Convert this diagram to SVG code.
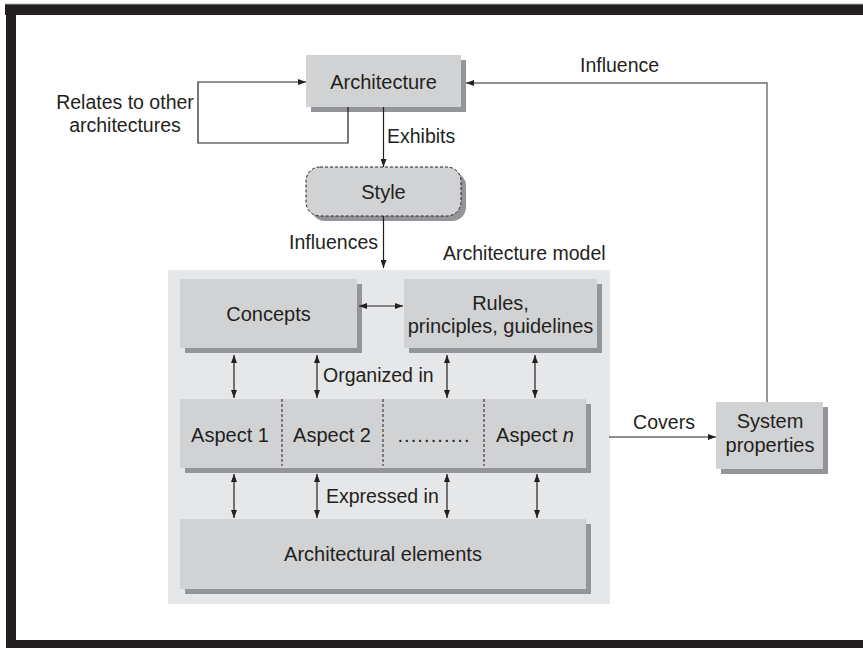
<svg xmlns="http://www.w3.org/2000/svg" width="863" height="648" viewBox="0 0 863 648">
<defs>
<marker id="ah" markerWidth="8" markerHeight="6" refX="8" refY="3" orient="auto-start-reverse" markerUnits="userSpaceOnUse">
<path d="M0,0 L8,3 L0,6 z" fill="#231f20"/>
</marker>
<style>
text{font-family:"Liberation Sans",Arial,sans-serif;font-size:19.5px;fill:#231f20}
.c{text-anchor:middle}
.n{font-size:20px}
.box{fill:#d1d2d4}
.sh{fill:#939598}
.ln{fill:none;stroke:#231f20;stroke-width:1.2}
.gl{fill:none;stroke:#6d6e71;stroke-width:1.4}
.dv{stroke:#231f20;stroke-width:1;stroke-dasharray:3,2}
</style>
</defs>
<rect x="0" y="0" width="863" height="648" fill="#fff"/>
<rect x="5" y="4" width="858" height="11" fill="#231f20"/>
<rect x="6" y="4" width="10" height="644" fill="#231f20"/>
<rect x="6" y="640" width="857" height="8" fill="#231f20"/>
<line x1="5" y1="4" x2="863" y2="4" stroke="#a7a9ac" stroke-width="1"/>
<g id="model">
<rect x="168" y="270" width="442" height="334" fill="#e6e7e8"/>
<text x="443" y="260">Architecture model</text>
</g>
<g id="architecture">
<rect class="sh" x="311" y="60" width="155" height="52"/>
<rect class="box" x="306" y="55" width="155" height="52"/>
<text class="c n" x="383.5" y="89">Architecture</text>
</g>
<g id="style">
<rect class="sh" x="311" y="172" width="155" height="49" rx="14"/>
<rect x="306" y="167" width="155" height="49" rx="14" fill="#d1d2d4" stroke="#231f20" stroke-width="1" stroke-dasharray="3,2"/>
<text class="c n" x="383.5" y="199">Style</text>
</g>
<g id="concepts">
<rect class="sh" x="185" y="284" width="177" height="69"/>
<rect class="box" x="180" y="279" width="177" height="69"/>
<text class="c n" x="268.5" y="321">Concepts</text>
</g>
<g id="rules">
<rect class="sh" x="409" y="284" width="193" height="69"/>
<rect class="box" x="404" y="279" width="193" height="69"/>
<text class="c n" x="500.5" y="310">Rules,</text>
<text class="c n" x="500.5" y="333">principles, guidelines</text>
</g>
<g id="aspects">
<rect class="sh" x="185" y="404" width="406" height="69"/>
<rect class="box" x="180" y="399" width="406" height="69"/>
<line class="dv" x1="282" y1="399" x2="282" y2="466"/>
<line class="dv" x1="383" y1="399" x2="383" y2="466"/>
<line class="dv" x1="484" y1="399" x2="484" y2="466"/>
<text class="c n" x="230" y="442">Aspect 1</text>
<text class="c n" x="332" y="442">Aspect 2</text>
<text class="c n" x="434" y="442" letter-spacing="1.1">...........</text>
<text class="c n" x="535" y="442">Aspect <tspan font-style="italic">n</tspan></text>
</g>
<g id="elements">
<rect class="sh" x="185" y="524" width="406" height="70"/>
<rect class="box" x="180" y="519" width="406" height="70"/>
<text class="c n" x="383" y="561">Architectural elements</text>
</g>
<g id="system">
<rect class="sh" x="721" y="407" width="107" height="67"/>
<rect class="box" x="716" y="402" width="107" height="67"/>
<text class="c n" x="770" y="428">System</text>
<text class="c n" x="770" y="452">properties</text>
</g>
<g id="connectors">
<polyline class="ln" points="348,107 348,143 198,143 198,82 306,82" marker-end="url(#ah)"/>
<line class="ln" x1="383.5" y1="107" x2="383.5" y2="167" marker-end="url(#ah)"/>
<line class="ln" x1="383.5" y1="216" x2="383.5" y2="268" marker-end="url(#ah)"/>
<polyline class="gl" points="767,402 767,83 466,83" marker-end="url(#ah)"/>
<line class="ln" x1="359" y1="306" x2="403" y2="306" marker-start="url(#ah)" marker-end="url(#ah)"/>
<line class="ln" x1="234" y1="355" x2="234" y2="398" marker-start="url(#ah)" marker-end="url(#ah)"/>
<line class="ln" x1="317" y1="355" x2="317" y2="398" marker-start="url(#ah)" marker-end="url(#ah)"/>
<line class="ln" x1="447" y1="355" x2="447" y2="398" marker-start="url(#ah)" marker-end="url(#ah)"/>
<line class="ln" x1="535" y1="355" x2="535" y2="398" marker-start="url(#ah)" marker-end="url(#ah)"/>
<line class="ln" x1="234" y1="474" x2="234" y2="518" marker-start="url(#ah)" marker-end="url(#ah)"/>
<line class="ln" x1="317" y1="474" x2="317" y2="518" marker-start="url(#ah)" marker-end="url(#ah)"/>
<line class="ln" x1="447" y1="474" x2="447" y2="518" marker-start="url(#ah)" marker-end="url(#ah)"/>
<line class="ln" x1="537" y1="474" x2="537" y2="518" marker-start="url(#ah)" marker-end="url(#ah)"/>
<line class="ln" x1="609" y1="437" x2="716" y2="437" marker-end="url(#ah)"/>
<text class="c" x="125" y="109">Relates to other</text>
<text class="c" x="125" y="132">architectures</text>
<text x="387" y="143">Exhibits</text>
<text x="378" y="249" text-anchor="end">Influences</text>
<text x="580" y="72">Influence</text>
<text x="323" y="382">Organized in</text>
<text x="326" y="503">Expressed in</text>
<text class="c" x="664" y="429">Covers</text>
</g>
</svg>
